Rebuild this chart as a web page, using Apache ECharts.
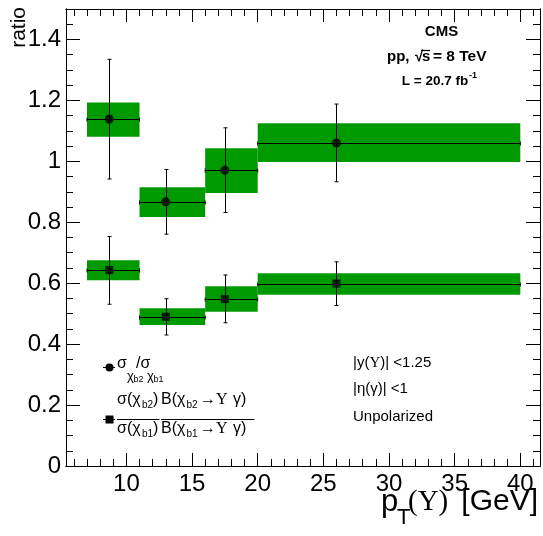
<!DOCTYPE html>
<html>
<head>
<meta charset="utf-8">
<script src="https://cdn.jsdelivr.net/npm/echarts@6/dist/echarts.min.js"></script>
<style>
  html, body { margin: 0; padding: 0; background: #fff; }
  #chart { width: 543px; height: 536px; }
</style>
</head>
<body>
<div id="chart"></div>
<script>
// pT(Upsilon) bins
const binLow = [7, 11, 16, 20];
const binHigh = [11, 16, 20, 40];
const binCenter = [8.7, 13.0, 17.5, 26.0];

// sigma(chi_b2) / sigma(chi_b1)
const sigmaRatio = [1.139, 0.867, 0.971, 1.060];
const sigmaStatLow = [0.942, 0.761, 0.832, 0.933];
const sigmaStatHigh = [1.335, 0.973, 1.110, 1.188];
const sigmaSystLow = [1.081, 0.817, 0.896, 0.998];
const sigmaSystHigh = [1.193, 0.915, 1.043, 1.125];

// sigma ratio times branching-fraction ratio
const brRatio = [0.643, 0.490, 0.548, 0.599];
const brStatLow = [0.531, 0.430, 0.470, 0.527];
const brStatHigh = [0.753, 0.549, 0.627, 0.670];
const brSystLow = [0.610, 0.463, 0.506, 0.562];
const brSystHigh = [0.675, 0.518, 0.590, 0.633];

// axis ticks
const xMajorTicks = [10, 15, 20, 25, 30, 35, 40];
const yMajorTicks = [0, 0.2, 0.4, 0.6, 0.8, 1, 1.2, 1.4];
const xRange = [5.4, 41.5];
const yRange = [0, 1.5];

const xMinorTicks = [];
for (let v = 6; v <= 41; v++) if (v % 5 !== 0) xMinorTicks.push(v);
const yMinorTicks = [];
for (let i = 1; i <= 29; i++) if (i % 4 !== 0) yMinorTicks.push(+(i * 0.05).toFixed(2));

const SANS = '"Liberation Sans", Arial, Helvetica, sans-serif';
const SERIF = '"Liberation Serif", "Times New Roman", serif';
const GREEN = '#009900';

function axis(kind, position, ticks, len, withLabels) {
  const range = kind === 'x' ? xRange : yRange;
  return {
    type: 'value',
    position: position,
    min: range[0],
    max: range[1],
    axisLine: { show: true, onZero: false, lineStyle: { color: '#000', width: 1 } },
    splitLine: { show: false },
    axisTick: { show: true, inside: true, length: len, customValues: ticks,
                lineStyle: { color: '#000', width: 1 } },
    axisLabel: withLabels ? {
      show: true, customValues: ticks, color: '#000',
      fontSize: 24, fontFamily: SANS, margin: kind === 'x' ? 6 : 5
    } : { show: false }
  };
}

function pairs(a, b, c, d) {
  return a.map((v, i) => [v, b[i], c[i], d[i]]);
}
function errData(x, y, xl, xh, yl, yh) {
  return x.map((v, i) => [v, y[i], xl[i], xh[i], yl[i], yh[i]]);
}

// systematic band: filled rectangle over the bin
function renderBox(params, api) {
  const p0 = api.coord([api.value(0), api.value(3)]);
  const p1 = api.coord([api.value(1), api.value(2)]);
  return {
    type: 'rect',
    shape: { x: p0[0], y: p0[1], width: p1[0] - p0[0], height: p1[1] - p0[1] },
    style: { fill: GREEN }
  };
}

// statistical error bars plus bin-width bar, with small end marks
function renderErr(params, api) {
  const x = api.value(0), y = api.value(1);
  const c = api.coord([x, y]);
  const l = api.coord([api.value(2), y]);
  const r = api.coord([api.value(3), y]);
  const b = api.coord([x, api.value(4)]);
  const t = api.coord([x, api.value(5)]);
  const px = v => Math.round(v) + 0.5;
  const cx = px(c[0]), cy = px(c[1]);
  const st = { stroke: '#000', lineWidth: 1 };
  const seg = (x1, y1, x2, y2) => ({ type: 'line', shape: { x1, y1, x2, y2 }, style: st });
  return {
    type: 'group',
    children: [
      seg(l[0], cy, r[0], cy),
      seg(cx, t[1], cx, b[1]),
      seg(cx - 2, t[1], cx + 2, t[1]),
      seg(cx - 2, b[1], cx + 2, b[1]),
      seg(l[0], cy - 2, l[0], cy + 2),
      seg(r[0], cy - 2, r[0], cy + 2)
    ]
  };
}

function txt(x, y, text, size, extra) {
  return {
    type: 'text', x: x, y: y, z: 10,
    style: Object.assign({
      text: text, font: size + 'px ' + SANS, fill: '#000',
      align: 'left', verticalAlign: 'middle'
    }, extra || {})
  };
}
function bar(x1, x2, y) {
  return { type: 'line', z: 10, shape: { x1: x1, y1: y, x2: x2, y2: y },
           style: { stroke: '#000', lineWidth: 1 } };
}
const bold = size => ({ font: 'bold ' + size + 'px ' + SANS });

const graphics = [
  // y axis title
  { type: 'text', x: 30, y: 7, rotation: Math.PI / 2, z: 10,
    style: { text: 'ratio', font: '21px ' + SANS, fill: '#000', align: 'right', verticalAlign: 'bottom' } },
  // x axis title
  txt(381, 502, 'p', 31),
  txt(397, 518, 'T', 22),
  txt(408, 502, '(Υ)', 29, { font: '29px ' + SERIF }),
  txt(538, 502, '[GeV]', 30, { align: 'right' }),

  // experiment block
  txt(441.5, 32, 'CMS', 15, Object.assign(bold(15), { align: 'center' })),
  txt(387, 57, 'pp,', 15, bold(15)),
  txt(415, 57, '√', 15, bold(15)),
  txt(422, 57, 's', 15, bold(15)),
  { type: 'line', z: 10, shape: { x1: 421, y1: 50.5, x2: 430, y2: 50.5 },
    style: { stroke: '#000', lineWidth: 1.2 } },
  txt(433, 57, '= 8 TeV', 15, bold(15.5)),
  txt(435, 81, 'L = 20.7 fb', 13.5, Object.assign(bold(13.5), { align: 'center' })),
  txt(469, 76, '-1', 9, bold(9)),

  // selection notes
  { type: 'text', x: 353, y: 363, z: 10, style: {
      text: '{a||y(}{u|Υ}{a|)| <1.25}', verticalAlign: 'middle',
      rich: { a: { font: '15px ' + SANS, fill: '#000' }, u: { font: '15px ' + SERIF, fill: '#000' } } } },
  txt(353, 389, '|η(γ)| <1', 15),
  txt(353, 417, 'Unpolarized', 15),

  // legend: first entry
  bar(103, 115, 367.5),
  { type: 'circle', z: 10, shape: { cx: 109.5, cy: 367.5, r: 4 }, style: { fill: '#000' } },
  txt(117, 364, 'σ', 16),
  txt(127, 376, 'χ', 13),
  txt(133.5, 379.5, 'b2', 9),
  txt(136, 364, '/σ', 16),
  txt(147, 376, 'χ', 13),
  txt(153.5, 379.5, 'b1', 9),

  // legend: second entry
  bar(103, 115, 419.5),
  { type: 'rect', z: 10, shape: { x: 105.5, y: 415.5, width: 8, height: 8 }, style: { fill: '#000' } },
  txt(117, 400, 'σ(χ', 16),
  txt(142, 405, 'b2', 10),
  txt(153, 400, ')', 16),
  bar(117, 159.5, 419.5),
  txt(117, 429, 'σ(χ', 16),
  txt(142, 434, 'b1', 10),
  txt(153, 429, ')', 16),
  txt(161, 400, 'B(χ', 16),
  txt(186.5, 405, 'b2', 10),
  txt(200, 400, '→', 16),
  txt(216, 400, 'Υ', 16, { font: '16px ' + SERIF }),
  txt(233, 400, 'γ)', 16),
  bar(161, 254.5, 419.5),
  txt(161, 429, 'B(χ', 16),
  txt(186.5, 434, 'b1', 10),
  txt(200, 429, '→', 16),
  txt(216, 429, 'Υ', 16, { font: '16px ' + SERIF }),
  txt(233, 429, 'γ)', 16)
];

const chart = echarts.init(document.getElementById('chart'), null, { renderer: 'canvas' });
chart.setOption({
  animation: false,
  backgroundColor: '#fff',
  grid: { left: 66, right: 3, top: 9, bottom: 70, containLabel: false },
  xAxis: [
    axis('x', 'bottom', xMajorTicks, 13, true),
    axis('x', 'bottom', xMinorTicks, 7, false),
    axis('x', 'top', xMajorTicks, 13, false),
    axis('x', 'top', xMinorTicks, 7, false)
  ],
  yAxis: [
    axis('y', 'left', yMajorTicks, 14, true),
    axis('y', 'left', yMinorTicks, 7, false),
    axis('y', 'right', yMajorTicks, 14, false),
    axis('y', 'right', yMinorTicks, 7, false)
  ],
  series: [
    { type: 'custom', name: 'syst sigma', renderItem: renderBox, z: 1,
      encode: { x: [0, 1], y: [2, 3] },
      data: pairs(binLow, binHigh, sigmaSystLow, sigmaSystHigh) },
    { type: 'custom', name: 'syst br', renderItem: renderBox, z: 1,
      encode: { x: [0, 1], y: [2, 3] },
      data: pairs(binLow, binHigh, brSystLow, brSystHigh) },
    { type: 'custom', name: 'err sigma', renderItem: renderErr, z: 2,
      encode: { x: [0, 2, 3], y: [1, 4, 5] },
      data: errData(binCenter, sigmaRatio, binLow, binHigh, sigmaStatLow, sigmaStatHigh) },
    { type: 'custom', name: 'err br', renderItem: renderErr, z: 2,
      encode: { x: [0, 2, 3], y: [1, 4, 5] },
      data: errData(binCenter, brRatio, binLow, binHigh, brStatLow, brStatHigh) },
    { type: 'scatter', name: 'sigma ratio', z: 3, symbol: 'circle', symbolSize: 9,
      itemStyle: { color: '#000' },
      data: binCenter.map((x, i) => [x, sigmaRatio[i]]) },
    { type: 'scatter', name: 'br ratio', z: 3, symbol: 'rect', symbolSize: 8,
      itemStyle: { color: '#000' },
      data: binCenter.map((x, i) => [x, brRatio[i]]) }
  ],
  graphic: graphics
});
</script>
</body>
</html>
